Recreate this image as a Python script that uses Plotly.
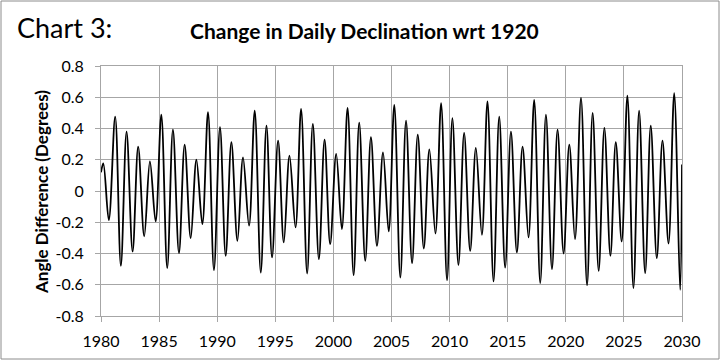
import plotly.graph_objects as go

# Extremum points (year, angle difference in degrees)
years = [1980.0, 1980.2, 1980.67, 1981.22, 1981.71, 1982.2, 1982.72, 1983.2, 1983.72, 1984.21, 1984.7,
         1985.19, 1985.7, 1986.19, 1986.71, 1987.2, 1987.72, 1988.21, 1988.72, 1989.21, 1989.72,
         1990.24, 1990.73, 1991.22, 1991.74, 1992.22, 1992.74, 1993.23, 1993.75, 1994.24, 1994.72,
         1995.24, 1995.73, 1996.22, 1996.74, 1997.22, 1997.74, 1998.23, 1998.75, 1999.24, 1999.72,
         2000.24, 2000.73, 2001.22, 2001.74, 2002.22, 2002.74, 2003.23, 2003.75, 2004.27, 2004.76,
         2005.24, 2005.76, 2006.25, 2006.77, 2007.26, 2007.78, 2008.26, 2008.78, 2009.27, 2009.78,
         2010.24, 2010.76, 2011.25, 2011.77, 2012.26, 2012.78, 2013.26, 2013.78, 2014.27, 2014.78,
         2015.28, 2015.79, 2016.28, 2016.79, 2017.28, 2017.80, 2018.29, 2018.81, 2019.29, 2019.81,
         2020.3, 2020.79, 2021.31, 2021.83, 2022.31, 2022.83, 2023.32, 2023.84, 2024.3, 2024.81,
         2025.3, 2025.82, 2026.31, 2026.83, 2027.31, 2027.83, 2028.32, 2028.84, 2029.33, 2029.84,
         2030.0]
angle_diff = [0.12, 0.177, -0.186, 0.476, -0.479, 0.38, -0.387, 0.284, -0.29, 0.19, -0.195,
              0.489, -0.494, 0.393, -0.397, 0.297, -0.301, 0.20, -0.212, 0.504, -0.506,
              0.408, -0.415, 0.312, -0.319, 0.215, -0.222, 0.515, -0.522, 0.419, -0.425,
              0.322, -0.329, 0.226, -0.233, 0.525, -0.528, 0.429, -0.436, 0.329, -0.34,
              0.237, -0.244, 0.532, -0.539, 0.438, -0.447, 0.344, -0.351, 0.247, -0.259,
              0.551, -0.554, 0.451, -0.462, 0.361, -0.368, 0.267, -0.272, 0.562, -0.571,
              0.466, -0.474, 0.372, -0.383, 0.276, -0.28, 0.574, -0.579, 0.476, -0.49,
              0.38, -0.393, 0.284, -0.297, 0.583, -0.59, 0.489, -0.5, 0.393, -0.4,
              0.297, -0.308, 0.596, -0.603, 0.5, -0.511, 0.404, -0.415, 0.312, -0.323,
              0.611, -0.622, 0.515, -0.526, 0.419, -0.43, 0.322, -0.336, 0.626, -0.633,
              0.17]

x_ticks = [1980, 1985, 1990, 1995, 2000, 2005, 2010, 2015, 2020, 2025, 2030]
y_ticks = [-0.8, -0.6, -0.4, -0.2, 0, 0.2, 0.4, 0.6, 0.8]
y_tick_labels = ["-0.8", "-0.6", "-0.4", "-0.2", "0", "0.2", "0.4", "0.6", "0.8"]

W, H = 720, 361
L, R, T, B = 101, 38, 66, 45
PW, PH = W - L - R, H - T - B

def px_x(px):
    return (px - L) / PW

def px_y(py):
    return (H - B - py) / PH

FONT = "Lato, Calibri, sans-serif"
GRID = "#a6a6a6"

fig = go.Figure()
fig.add_trace(go.Scatter(
    x=years, y=angle_diff, mode="lines",
    line=dict(color="black", width=1.8, shape="spline", smoothing=1.0),
    showlegend=False, hoverinfo="skip"))

fig.update_layout(
    width=W, height=H,
    margin=dict(l=L, r=R, t=T, b=B),
    paper_bgcolor="white", plot_bgcolor="white",
    font=dict(family=FONT, size=16, color="black"),
    xaxis=dict(range=[1980, 2030], tickvals=x_ticks, showgrid=True, gridcolor=GRID, gridwidth=1,
               showline=True, linecolor=GRID, linewidth=1, mirror=True, ticks="outside",
               ticklen=5, tickcolor=GRID, zeroline=False, fixedrange=True,
               ticklabelstandoff=6, tickfont=dict(family=FONT, size=16)),
    yaxis=dict(range=[-0.8, 0.8], tickvals=y_ticks, ticktext=y_tick_labels, showgrid=True,
               gridcolor=GRID, gridwidth=1, showline=True, linecolor=GRID, linewidth=1,
               mirror=True, ticks="outside", ticklen=5, tickcolor=GRID, zeroline=False,
               fixedrange=True, ticklabelstandoff=8, tickfont=dict(family=FONT, size=16)),
    shapes=[dict(type="rect", xref="paper", yref="paper",
                 x0=px_x(1), x1=px_x(719), y0=px_y(359), y1=px_y(1),
                 line=dict(color="#8c8c8c", width=1), fillcolor="rgba(0,0,0,0)", layer="below")],
    annotations=[
        dict(text="<b>Change in Daily Declination wrt 1920</b>", xref="paper", yref="paper",
             x=px_x(364), y=px_y(30), xanchor="center", yanchor="middle", showarrow=False,
             font=dict(family=FONT, size=21)),
        dict(text="Chart 3:", xref="paper", yref="paper",
             x=px_x(15), y=px_y(27), xanchor="left", yanchor="middle", showarrow=False,
             font=dict(family=FONT, size=27)),
        dict(text="<b>Angle Difference (Degrees)</b>", xref="paper", yref="paper",
             x=px_x(41), y=px_y(192), xanchor="center", yanchor="middle", textangle=-90,
             showarrow=False, font=dict(family=FONT, size=17)),
    ],
)

fig.write_html("out.html", config={"displayModeBar": False},
               post_script="document.body.style.margin='0px';document.body.style.overflow='hidden';")
